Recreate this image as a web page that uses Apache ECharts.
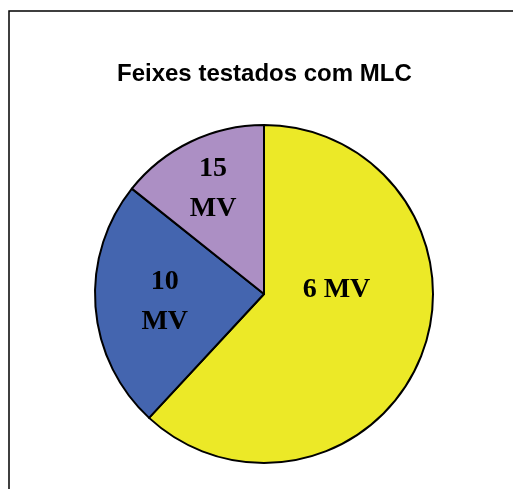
<!DOCTYPE html>
<html>
<head>
<meta charset="utf-8">
<script src="https://cdn.jsdelivr.net/npm/echarts@6/dist/echarts.min.js"></script>
<style>
  html, body { margin: 0; padding: 0; background: #fff; }
  #main { width: 513px; height: 489px; }
</style>
</head>
<body>
<div id="main"></div>
<script>
// dados do gráfico
var categories = ['6 MV', '10\nMV', '15\nMV'];
var values = [13, 5, 3];
var colors = ['#ECE927', '#4465AF', '#AC8FC4'];
// deslocamento dos rótulos
var labelOffsets = [[-9, -36], [-12, 1], [-13, -26]];

var chart = echarts.init(document.getElementById('main'));

var option = {
    animation: false,
    backgroundColor: '#fff',
    title: {
        text: 'Feixes testados com MLC',
        left: 112,
        top: 57,
        textStyle: {
            fontFamily: 'Liberation Sans, Arial, sans-serif',
            fontWeight: 'bold',
            fontSize: 24,
            color: '#000'
        }
    },
    graphic: [{
        type: 'rect',
        shape: { x: 9, y: 11, width: 600, height: 600 },
        style: { fill: 'none', stroke: '#000', lineWidth: 1.5 },
        silent: true
    }],
    series: [{
        type: 'pie',
        center: [264, 294],
        radius: 169,
        startAngle: 90,
        clockwise: true,
        data: categories.map(function (c, i) {
            return {
                name: c,
                value: values[i],
                itemStyle: { color: colors[i] },
                label: { offset: labelOffsets[i] }
            };
        }),
        itemStyle: { borderColor: '#000', borderWidth: 2 },
        label: {
            show: true,
            position: 'inside',
            formatter: '{b}',
            fontFamily: 'Liberation Serif, Times New Roman, serif',
            fontWeight: 'bold',
            fontSize: 28,
            lineHeight: 40,
            color: '#000'
        },
        labelLine: { show: false },
        emphasis: { disabled: true }
    }]
};

chart.setOption(option);
</script>
</body>
</html>
